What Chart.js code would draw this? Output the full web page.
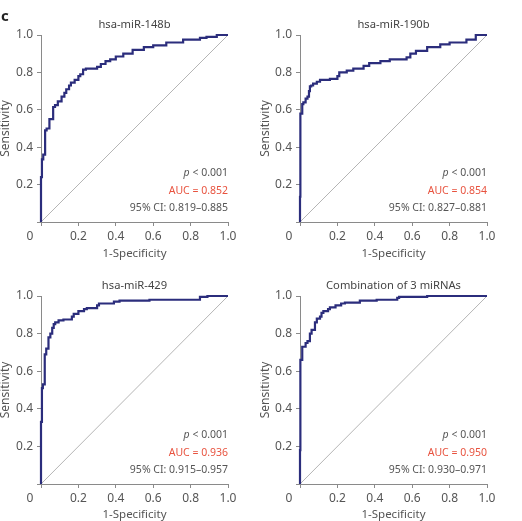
<!DOCTYPE html>
<html>
<head>
<meta charset="utf-8">
<script src="https://cdn.jsdelivr.net/npm/chart.js@4"></script>
<style>
  html, body { margin: 0; padding: 0; background: #fff; }
  #wrap { position: relative; width: 522px; height: 521px; overflow: hidden; }
  canvas { position: absolute; }
</style>
</head>
<body>
<div id="wrap">
  <canvas id="c1" width="261" height="261" style="left:0px;top:0px"></canvas>
  <canvas id="c2" width="261" height="261" style="left:260px;top:0px"></canvas>
  <canvas id="c3" width="261" height="261" style="left:0px;top:261px"></canvas>
  <canvas id="c4" width="261" height="261" style="left:260px;top:261px"></canvas>
</div>
<script>
// ---- Data ----
const panelTitles = ["hsa-miR-148b", "hsa-miR-190b", "hsa-miR-429", "Combination of 3 miRNAs"];
const aucLabels = ["AUC = 0.852", "AUC = 0.854", "AUC = 0.936", "AUC = 0.950"];
const ciLabels = ["95% CI: 0.819\u20130.885", "95% CI: 0.827\u20130.881", "95% CI: 0.915\u20130.957", "95% CI: 0.930\u20130.971"];
const pLabels = ["< 0.001", "< 0.001", "< 0.001", "< 0.001"];

const fpr148 = [0, 0.005, 0.012, 0.022, 0.03, 0.045, 0.065, 0.075, 0.09, 0.11, 0.125, 0.135, 0.15, 0.16, 0.18, 0.2, 0.21, 0.225, 0.24, 0.3, 0.32, 0.345, 0.37, 0.4, 0.44, 0.49, 0.55, 0.6, 0.67, 0.76, 0.85, 0.885, 0.94, 1.0];
const tpr148 = [0, 0.24, 0.335, 0.36, 0.49, 0.50, 0.55, 0.615, 0.625, 0.645, 0.67, 0.69, 0.71, 0.73, 0.745, 0.76, 0.78, 0.79, 0.815, 0.82, 0.83, 0.845, 0.86, 0.87, 0.885, 0.90, 0.92, 0.935, 0.945, 0.96, 0.975, 0.985, 0.99, 1.0];

const fpr190 = [0, 0.002, 0.012, 0.018, 0.03, 0.04, 0.048, 0.053, 0.06, 0.07, 0.09, 0.107, 0.16, 0.2, 0.21, 0.25, 0.285, 0.34, 0.37, 0.43, 0.48, 0.57, 0.59, 0.62, 0.68, 0.75, 0.8, 0.89, 0.94, 1.0];
const tpr190 = [0, 0.135, 0.58, 0.63, 0.64, 0.66, 0.67, 0.70, 0.725, 0.73, 0.74, 0.75, 0.76, 0.765, 0.78, 0.80, 0.81, 0.82, 0.835, 0.85, 0.86, 0.87, 0.88, 0.90, 0.915, 0.935, 0.95, 0.96, 0.975, 1.0];

const fpr429 = [0, 0.005, 0.01, 0.02, 0.028, 0.04, 0.05, 0.06, 0.068, 0.076, 0.094, 0.12, 0.165, 0.175, 0.2, 0.23, 0.245, 0.3, 0.31, 0.39, 0.42, 0.58, 0.85, 0.89, 1.0];
const tpr429 = [0, 0.33, 0.51, 0.53, 0.69, 0.72, 0.78, 0.80, 0.83, 0.85, 0.86, 0.87, 0.875, 0.89, 0.905, 0.92, 0.93, 0.935, 0.95, 0.96, 0.97, 0.975, 0.98, 0.995, 1.0];

const fprCombo = [0, 0.002, 0.012, 0.03, 0.04, 0.053, 0.062, 0.08, 0.09, 0.107, 0.115, 0.125, 0.15, 0.16, 0.19, 0.22, 0.24, 0.32, 0.41, 0.52, 0.53, 0.68, 1.0];
const tprCombo = [0, 0.18, 0.66, 0.73, 0.75, 0.76, 0.80, 0.82, 0.86, 0.88, 0.89, 0.91, 0.92, 0.93, 0.94, 0.95, 0.96, 0.965, 0.975, 0.98, 0.99, 0.995, 1.0];

const diagX = [0, 1];
const diagY = [0, 1];
const tickValues = [0, 0.2, 0.4, 0.6, 0.8, 1.0];

// ---- Styling ----
const FONT = "'Noto Sans', 'Open Sans', sans-serif";
const CURVE = '#2b2d7c';
const AXIS = '#8a8a8a';
const TEXT = '#555555';
const RED = '#e8533f';

function pts(xs, ys) { return xs.map((x, i) => ({ x: x, y: ys[i] })); }

const panels = [
  { id: 'c1', fpr: fpr148, tpr: tpr148, L: 41, R: 228, T: 35, B: 222, letter: true },
  { id: 'c2', fpr: fpr190, tpr: tpr190, L: 40, R: 227, T: 35, B: 222 },
  { id: 'c3', fpr: fpr429, tpr: tpr429, L: 41, R: 228, T: 35, B: 223 },
  { id: 'c4', fpr: fprCombo, tpr: tprCombo, L: 40, R: 227, T: 35, B: 223 }
];

const textPlugin = {
  id: 'textPlugin',
  afterDraw(chart, args, opts) {
    const ctx = chart.ctx;
    const a = chart.chartArea;
    ctx.save();
    // panel title
    ctx.fillStyle = '#444';
    ctx.font = '11.2px ' + FONT;
    ctx.textAlign = 'center';
    ctx.textBaseline = 'middle';
    ctx.fillText(opts.title, (a.left + a.right) / 2, a.top - 10);
    // corner 0
    ctx.fillStyle = TEXT;
    ctx.font = '12px ' + FONT;
    ctx.fillText('0', a.left - 11, a.bottom + 15);
    // annotations
    ctx.textAlign = 'right';
    ctx.font = '10.5px ' + FONT;
    ctx.fillStyle = TEXT;
    ctx.fillText(opts.ci, a.right, a.bottom - 14);
    ctx.fillStyle = RED;
    ctx.fillText(opts.auc, a.right, a.bottom - 31);
    ctx.fillStyle = TEXT;
    const pw = ctx.measureText(' ' + opts.p).width;
    ctx.fillText(' ' + opts.p, a.right, a.bottom - 48.5);
    ctx.font = 'italic 10.5px ' + FONT;
    ctx.fillText('p', a.right - pw, a.bottom - 48.5);
    if (opts.letter) {
      ctx.fillStyle = '#222';
      ctx.font = 'bold 15px ' + FONT;
      ctx.textAlign = 'left';
      ctx.textBaseline = 'alphabetic';
      ctx.fillText('c', 1, 21);
    }
    ctx.restore();
  }
};

panels.forEach((p, i) => {
  const canvas = document.getElementById(p.id);
  const W = canvas.width, H = canvas.height;
  new Chart(canvas, {
    type: 'scatter',
    data: {
      datasets: [
        {
          data: pts(p.fpr, p.tpr),
          showLine: true,
          stepped: 'after',
          borderColor: CURVE,
          borderWidth: 2.2,
          pointRadius: 0,
          fill: false,
          clip: false,
          order: 0
        },
        {
          data: pts(diagX, diagY),
          showLine: true,
          borderColor: '#b5b5b5',
          borderWidth: 1,
          pointRadius: 0,
          fill: false,
          order: 1
        }
      ]
    },
    options: {
      responsive: false,
      animation: false,
      devicePixelRatio: 1,
      layout: { padding: { top: p.T, right: W - p.R, left: 0, bottom: 0 } },
      plugins: {
        legend: { display: false },
        tooltip: { enabled: false },
        textPlugin: { title: panelTitles[i], auc: aucLabels[i], ci: ciLabels[i], p: pLabels[i], letter: !!p.letter }
      },
      scales: {
        x: {
          type: 'linear', min: 0, max: 1,
          afterFit(s) { s.height = H - p.B; },
          afterBuildTicks(s) { s.ticks = tickValues.map(v => ({ value: v })); },
          ticks: {
            autoSkip: false, maxRotation: 0, color: TEXT, padding: 3,
            font: { family: FONT, size: 12 },
            callback: v => (v === 0 ? '' : v.toFixed(1))
          },
          grid: { drawOnChartArea: false, tickLength: 4, color: AXIS, lineWidth: 1 },
          border: { color: AXIS, width: 1 },
          title: {
            display: true, text: '1-Specificity', color: TEXT,
            font: { family: FONT, size: 11.5, lineHeight: 1.2 }, padding: { top: 0, bottom: 0 }
          }
        },
        y: {
          type: 'linear', min: 0, max: 1,
          afterFit(s) { s.width = p.L; },
          afterBuildTicks(s) { s.ticks = tickValues.map(v => ({ value: v })); },
          ticks: {
            autoSkip: false, color: TEXT, padding: 4,
            font: { family: FONT, size: 12 },
            callback: v => (v === 0 ? '' : v.toFixed(1))
          },
          grid: { drawOnChartArea: false, tickLength: 4, color: AXIS, lineWidth: 1 },
          border: { color: AXIS, width: 1 },
          title: {
            display: true, text: 'Sensitivity', color: TEXT,
            font: { family: FONT, size: 12, lineHeight: 0.95 }, padding: { top: 0, bottom: 0 }
          }
        }
      }
    },
    plugins: [textPlugin]
  });
});
</script>
</body>
</html>
